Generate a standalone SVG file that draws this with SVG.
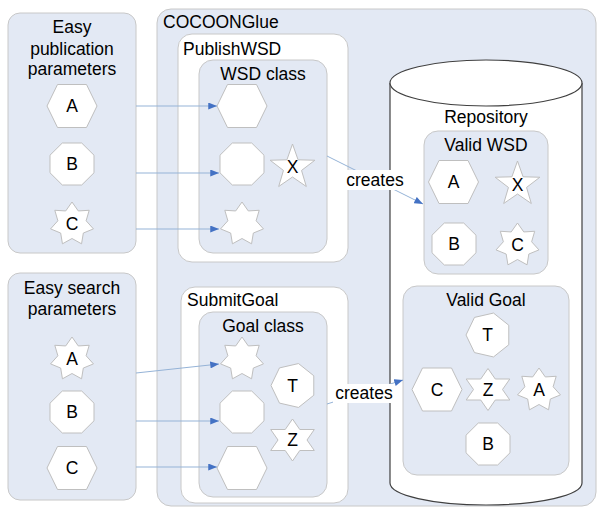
<svg xmlns="http://www.w3.org/2000/svg" xmlns:xlink="http://www.w3.org/1999/xlink" width="597" height="507" viewBox="0 0 597 507">
<style>
.box{fill:#e3e9f4;stroke:#c8c8c8;stroke-width:1}
.wbox{fill:#ffffff;stroke:#c8c8c8;stroke-width:1}
.sh{fill:#ffffff;stroke:#bfbfbf;stroke-width:1}
text{font-family:"Liberation Sans",Arial,sans-serif;font-size:17.5px;fill:#000}
.c{text-anchor:middle}
.con{stroke:#95b3d7;stroke-width:1;fill:none}
.cyl{fill:#ffffff;stroke:#404040;stroke-width:1.2}
.lbl{fill:#ffffff;stroke:none}
</style>
<defs>
<polygon id="hex" class="sh" points="-25,0 -14.5,-21.5 14.5,-21.5 25,0 14.5,21.5 -14.5,21.5"/>
<polygon id="oct" class="sh" points="-22,-8.8 -9.7,-21 9.7,-21 22,-8.8 22,8.8 9.7,21 -9.7,21 -22,8.8"/>
<polygon id="star7" class="sh" points="0,-22 6.29,-13.06 17.2,-13.72 14.14,-3.23 21.45,4.9 11.34,9.04 9.55,19.82 0,14.5 -9.55,19.82 -11.34,9.04 -21.45,4.9 -14.14,-3.23 -17.2,-13.72 -6.29,-13.06"/>
<polygon id="star5" class="sh" points="0,-23.5 5.58,-7.69 22.35,-7.26 9.04,2.94 13.81,19.01 0,9.5 -13.81,19.01 -9.04,2.94 -22.35,-7.26 -5.58,-7.69"/>
<polygon id="star6" class="sh" points="0,-21 7.27,-10.5 21.8,-10.5 14.5,0 21.8,10.5 7.27,10.5 0,21 -7.27,10.5 -21.8,10.5 -14.5,0 -21.8,-10.5 -7.27,-10.5"/>
<polygon id="hept" class="sh" points="-22.5,0 -14.03,-17.59 5.01,-21.94 20.27,-9.76 20.27,9.76 5.01,21.94 -14.03,17.59"/>
<marker id="arr" viewBox="0 0 10 8" refX="10" refY="4" markerWidth="9" markerHeight="7" markerUnits="userSpaceOnUse" orient="auto">
<path d="M0,0 L10,4 L0,8 Z" fill="#4472c4"/>
</marker>
</defs>

<g id="easy-publication">
<rect class="box" x="8" y="13" width="128" height="240" rx="12"/>
<text class="c" x="72" y="33">Easy</text>
<text class="c" x="72" y="54.5">publication</text>
<text class="c" x="72" y="75">parameters</text>
<use href="#hex" x="72" y="106"/><text class="c" x="72" y="112">A</text>
<use href="#oct" x="72" y="164"/><text class="c" x="72" y="170">B</text>
<use href="#star7" x="72" y="224"/><text class="c" x="72" y="230">C</text>
</g>

<g id="easy-search">
<rect class="box" x="8" y="273" width="128" height="227" rx="12"/>
<text class="c" x="72" y="293.5">Easy search</text>
<text class="c" x="72" y="314.5">parameters</text>
<use href="#star7" x="72" y="359"/><text class="c" x="72" y="365">A</text>
<use href="#oct" x="72" y="412"/><text class="c" x="72" y="418">B</text>
<use href="#hex" x="72" y="468"/><text class="c" x="72" y="474">C</text>
</g>

<g id="cocoonglue">
<rect class="box" x="157" y="9" width="439" height="497" rx="14"/>
<text x="163" y="28">COCOONGlue</text>
</g>

<g id="publishwsd">
<rect class="wbox" x="178" y="34" width="170" height="228" rx="14"/>
<text x="183" y="55">PublishWSD</text>
</g>

<g id="wsd-class">
<rect class="box" x="199" y="60" width="128" height="193" rx="14"/>
<text class="c" x="263" y="80">WSD class</text>
<use href="#hex" x="242" y="106"/>
<use href="#oct" x="242" y="164"/>
<use href="#star5" x="292.5" y="167.5"/><text class="c" x="292.5" y="173">X</text>
<use href="#star7" x="242" y="224"/>
</g>

<g id="submitgoal">
<rect class="wbox" x="181" y="287" width="167" height="216" rx="14"/>
<text x="187" y="306">SubmitGoal</text>
</g>

<g id="goal-class">
<rect class="box" x="199" y="312" width="128" height="185" rx="14"/>
<text class="c" x="263" y="331.5">Goal class</text>
<use href="#star7" x="242" y="359"/>
<use href="#hept" x="293.5" y="385.5"/><text class="c" x="292.5" y="392">T</text>
<use href="#oct" x="242" y="412"/>
<use href="#star6" x="292.5" y="440"/><text class="c" x="292.5" y="446">Z</text>
<use href="#hex" x="242" y="468"/>
</g>

<g id="repository">
<path class="cyl" d="M390,83 L390,483 A96,22 0 0 0 582,483 L582,83"/>
<ellipse class="cyl" cx="486" cy="83" rx="96" ry="23"/>
<text class="c" x="486" y="123">Repository</text>
</g>

<g id="valid-wsd">
<rect class="box" x="424" y="131" width="124" height="143" rx="14"/>
<text class="c" x="486" y="151">Valid WSD</text>
<use href="#hex" x="453.5" y="182"/><text class="c" x="453.5" y="188">A</text>
<use href="#star5" x="517.5" y="184.5"/><text class="c" x="517.5" y="191">X</text>
<use href="#oct" x="454" y="244"/><text class="c" x="454" y="250">B</text>
<use href="#star7" x="517.5" y="245"/><text class="c" x="517.5" y="251">C</text>
</g>

<g id="valid-goal">
<rect class="box" x="403" y="286" width="166" height="189" rx="14"/>
<text class="c" x="486" y="306">Valid Goal</text>
<use href="#hept" x="488.5" y="335"/><text class="c" x="487.5" y="341">T</text>
<use href="#hex" x="437" y="389.5"/><text class="c" x="437" y="395.5">C</text>
<use href="#star6" x="488" y="389.5"/><text class="c" x="488" y="395.5">Z</text>
<use href="#star7" x="539" y="390"/><text class="c" x="539" y="396">A</text>
<use href="#oct" x="488" y="444"/><text class="c" x="488" y="450">B</text>
</g>

<g id="connectors">
<line class="con" x1="136" y1="106" x2="217" y2="106" marker-end="url(#arr)"/>
<line class="con" x1="136" y1="173" x2="219" y2="173" marker-end="url(#arr)"/>
<line class="con" x1="136" y1="229" x2="219" y2="229" marker-end="url(#arr)"/>
<line class="con" x1="136" y1="373" x2="219" y2="364" marker-end="url(#arr)"/>
<line class="con" x1="136" y1="421" x2="219" y2="421" marker-end="url(#arr)"/>
<line class="con" x1="136" y1="467" x2="217" y2="467" marker-end="url(#arr)"/>
<line class="con" x1="327" y1="156" x2="423" y2="204" marker-end="url(#arr)"/>
<rect class="lbl" x="345" y="170" width="60" height="20"/>
<text class="c" x="375" y="185.5">creates</text>
<line class="con" x1="327" y1="404" x2="403" y2="380" marker-end="url(#arr)"/>
<rect class="lbl" x="333" y="384" width="62" height="19"/>
<text class="c" x="364" y="398.5">creates</text>
</g>
</svg>
